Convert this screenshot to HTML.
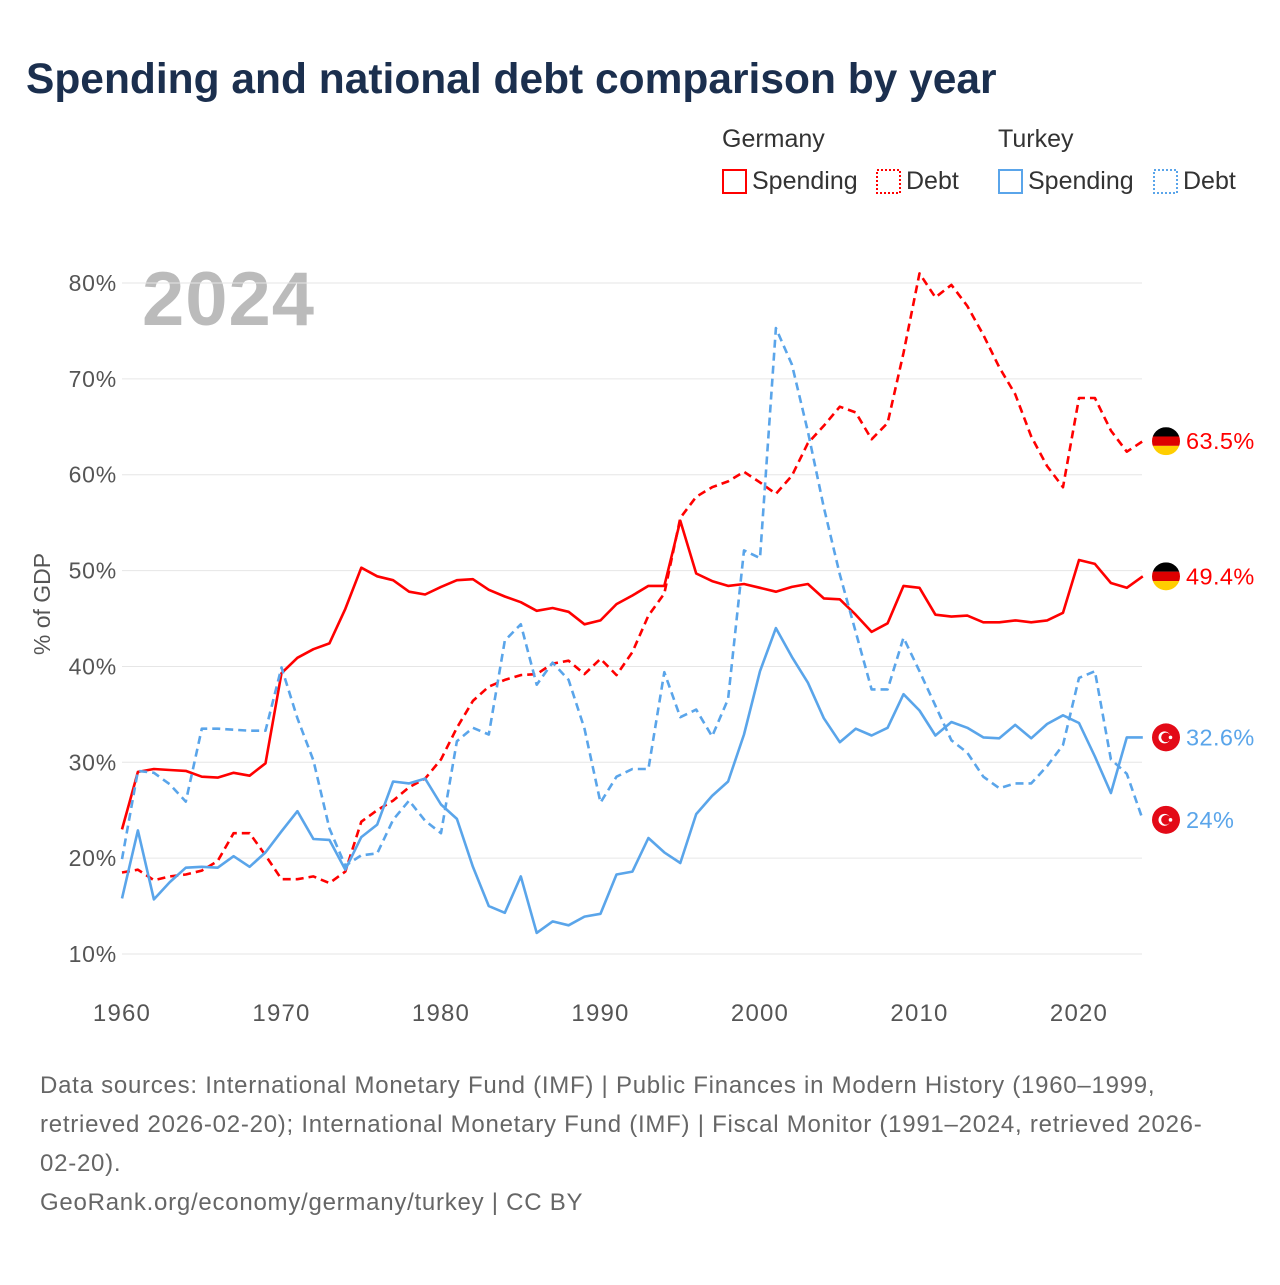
<!DOCTYPE html>
<html><head><meta charset="utf-8"><style>
body{margin:0;background:#fff;font-family:"Liberation Sans",sans-serif;}
svg text{font-family:"Liberation Sans",sans-serif;}
</style></head><body>
<svg id="c" width="1280" height="1280" viewBox="0 0 1280 1280" xmlns="http://www.w3.org/2000/svg">
<text x="26" y="93" font-size="42.5" font-weight="bold" fill="#1b2f4e">Spending and national debt comparison by year</text>
<g font-size="25" fill="#333">
<text x="722" y="147" fill="#333">Germany</text>
<text x="998" y="147" fill="#333">Turkey</text>
<g><rect x="723" y="170" width="23" height="23" fill="none" stroke="#f00" stroke-width="2"/><text x="752" y="189" fill="#333">Spending</text></g>
<g><rect x="877" y="170" width="23" height="23" fill="none" stroke="#f00" stroke-width="2" stroke-dasharray="2,2"/><text x="906" y="189" fill="#333">Debt</text></g>
<g><rect x="999" y="170" width="23" height="23" fill="none" stroke="#5aa5ea" stroke-width="2"/><text x="1028" y="189" fill="#333">Spending</text></g>
<g><rect x="1154" y="170" width="23" height="23" fill="none" stroke="#5aa5ea" stroke-width="2" stroke-dasharray="2,2"/><text x="1183" y="189" fill="#333">Debt</text></g>
</g>
<text x="142" y="325" font-size="76" font-weight="bold" fill="#bbb" letter-spacing="1">2024</text>
<text transform="translate(50,604) rotate(-90)" text-anchor="middle" font-size="23" fill="#555">% of GDP</text>
<g id="grid"></g><g id="marks"></g>
<g font-size="24" fill="#666" letter-spacing="0.75">
<text x="40" y="1093">Data sources: International Monetary Fund (IMF) | Public Finances in Modern History (1960–1999,</text>
<text x="40" y="1132">retrieved 2026-02-20); International Monetary Fund (IMF) | Fiscal Monitor (1991–2024, retrieved 2026-</text>
<text x="40" y="1171">02-20).</text>
<text x="40" y="1210">GeoRank.org/economy/germany/turkey | CC BY</text>
</g>
</svg>
<script>
const years=[];for(let y=1960;y<=2024;y++)years.push(y);
const yTicks=[10,20,30,40,50,60,70,80];
const xTicks=[1960,1970,1980,1990,2000,2010,2020];
const deSpending=[23.0,29.0,29.3,29.2,29.1,28.5,28.4,28.9,28.6,29.9,39.3,40.9,41.8,42.4,46.0,50.3,49.4,49.0,47.8,47.5,48.3,49.0,49.1,48.0,47.3,46.7,45.8,46.1,45.7,44.4,44.8,46.5,47.4,48.4,48.4,55.2,49.7,48.9,48.4,48.6,48.2,47.8,48.3,48.6,47.1,47.0,45.4,43.6,44.5,48.4,48.2,45.4,45.2,45.3,44.6,44.6,44.8,44.6,44.8,45.6,51.1,50.7,48.7,48.2,49.4];
const deDebt=[18.5,18.8,17.7,18.1,18.3,18.7,19.7,22.6,22.6,20.3,17.8,17.8,18.1,17.4,18.6,23.8,25.0,26.0,27.4,28.3,30.3,33.6,36.4,37.9,38.6,39.1,39.2,40.3,40.6,39.2,40.8,39.1,41.5,45.3,47.6,55.5,57.7,58.7,59.3,60.3,59.2,58.0,59.9,63.3,65.1,67.1,66.5,63.7,65.4,72.7,81.0,78.5,79.8,77.6,74.6,71.2,68.4,64.0,60.9,58.7,68.0,68.0,64.6,62.4,63.5];
const trSpending=[15.8,22.9,15.7,17.5,19.0,19.1,19.0,20.2,19.1,20.6,22.8,24.9,22.0,21.9,18.8,22.2,23.5,28.0,27.8,28.3,25.6,24.1,19.1,15.0,14.3,18.1,12.2,13.4,13.0,13.9,14.2,18.3,18.6,22.1,20.6,19.5,24.6,26.5,28.0,32.9,39.5,44.0,41.0,38.3,34.6,32.1,33.5,32.8,33.6,37.1,35.4,32.8,34.2,33.6,32.6,32.5,33.9,32.5,34.0,34.9,34.1,30.6,26.8,32.6,32.6];
const trDebt=[19.9,29.1,28.9,27.7,25.9,33.5,33.5,33.4,33.3,33.3,39.9,34.6,30.2,23.1,19.2,20.3,20.5,24.0,26.0,23.9,22.6,32.2,33.6,32.9,42.7,44.4,38.1,40.4,38.6,33.5,25.8,28.5,29.3,29.3,39.4,34.7,35.5,32.7,36.6,52.1,51.3,75.3,71.5,64.5,56.6,49.6,43.6,37.6,37.6,43.0,39.5,35.9,32.3,31.0,28.5,27.3,27.8,27.8,29.6,31.8,38.8,39.5,30.3,28.8,24.0];
const X=y=>122+(y-1960)*(957/60);
const Y=v=>283+(80-v)*9.586;
const NS="http://www.w3.org/2000/svg";
function mk(t,a,p){const e=document.createElementNS(NS,t);for(const k in a)e.setAttribute(k,a[k]);p.appendChild(e);return e;}
const grid=document.getElementById('grid'),marks=document.getElementById('marks');
yTicks.forEach(v=>{
 const l=mk('line',{x1:122,x2:1142,y1:Y(v),y2:Y(v),stroke:'#e6e6e6','stroke-width':1},grid);
 
 
 const t=mk('text',{x:117,y:Y(v)+8,'text-anchor':'end','font-size':23,fill:'#555','letter-spacing':0.8},grid);t.textContent=v+'%';
 
 
});
xTicks.forEach(v=>{
 const t=mk('text',{x:X(v),y:1021,'text-anchor':'middle','font-size':24,fill:'#555','letter-spacing':1.2},grid);t.textContent=v;
 
 
});
const series=[['germany-debt',deDebt,'#f00','8,5'],['germany-spending',deSpending,'#f00',''],['turkey-debt',trDebt,'#5aa5ea','8,5'],['turkey-spending',trSpending,'#5aa5ea','']];
series.forEach(([n,d,c,da])=>{
 const p=mk('path',{d:d.map((v,i)=>(i?'L':'M')+X(years[i]).toFixed(1)+','+Y(v).toFixed(1)).join(''),fill:'none',stroke:c,'stroke-width':2.6,'stroke-dasharray':da,'stroke-linejoin':'round'},marks);
 
 
});
const ends=[['germany-debt',deDebt,'#f00','de'],['germany-spending',deSpending,'#f00','de'],['turkey-spending',trSpending,'#5aa5ea','tr'],['turkey-debt',trDebt,'#5aa5ea','tr']];
ends.forEach(([n,d,c,f])=>{
 const v=d[d.length-1],cy=Y(v),cx=1166;
 const g=mk('g',{},marks);
 
 
 if(f==='de'){
  const id='clip'+n;const cp=mk('clipPath',{id:id},g);mk('circle',{cx:cx,cy:cy,r:14},cp);
  const gg=mk('g',{'clip-path':'url(#'+id+')'},g);
  mk('rect',{x:cx-14,y:cy-14,width:28,height:9.4,fill:'#000'},gg);
  mk('rect',{x:cx-14,y:cy-4.7,width:28,height:9.4,fill:'#dd0000'},gg);
  mk('rect',{x:cx-14,y:cy+4.7,width:28,height:9.4,fill:'#ffce00'},gg);
 } else {
  mk('circle',{cx:cx,cy:cy,r:14,fill:'#e30a17'},g);
  mk('circle',{cx:cx-1.5,cy:cy,r:6,fill:'#fff'},g);
  mk('circle',{cx:cx,cy:cy,r:4.8,fill:'#e30a17'},g);
  mk('circle',{cx:cx+4.5,cy:cy,r:1.8,fill:'#fff'},g);
 }
 const t=mk('text',{x:1186,y:cy+8,'font-size':23.5,fill:c,'letter-spacing':0.4},g);t.textContent=(Math.round(v*10)/10)+'%';
});
</script>
</body></html>
